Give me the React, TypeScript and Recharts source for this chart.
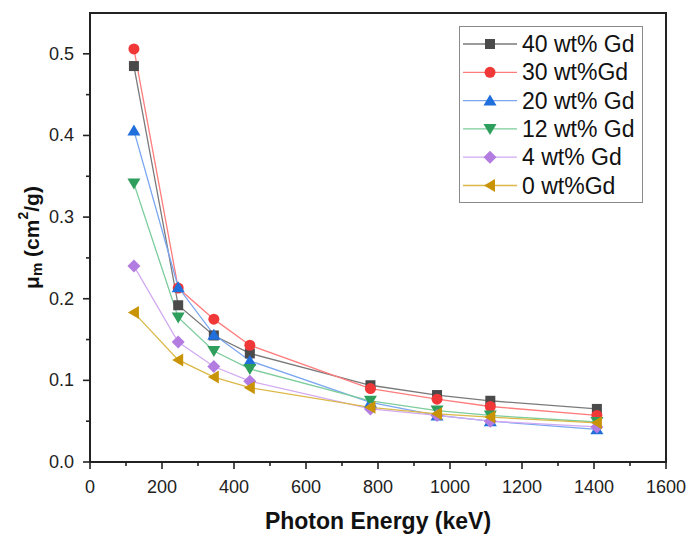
import React from "react";
import { LineChart, Line, XAxis, YAxis, Legend, ReferenceArea } from "recharts";

const energies = [122, 245, 344, 444, 779, 964, 1112, 1408];
const gd40 = [0.485, 0.192, 0.155, 0.133, 0.094, 0.082, 0.075, 0.065];
const gd30 = [0.506, 0.213, 0.175, 0.143, 0.09, 0.077, 0.068, 0.057];
const gd20 = [0.406, 0.214, 0.156, 0.124, 0.073, 0.057, 0.05, 0.04];
const gd12 = [0.341, 0.177, 0.136, 0.114, 0.075, 0.063, 0.057, 0.049];
const gd4 = [0.24, 0.147, 0.117, 0.099, 0.065, 0.057, 0.05, 0.043];
const gd0 = [0.183, 0.125, 0.104, 0.091, 0.067, 0.059, 0.055, 0.048];

const seriesNames = ["40 wt% Gd", "30 wt%Gd", "20 wt% Gd", "12 wt% Gd", "4 wt% Gd", "0 wt%Gd"];
const xTicks = [0, 100, 200, 300, 400, 500, 600, 700, 800, 900, 1000, 1100, 1200, 1300, 1400, 1500, 1600];
const yTicks = [0, 0.05, 0.1, 0.15, 0.2, 0.25, 0.3, 0.35, 0.4, 0.45, 0.5];

const seriesValues = [gd40, gd30, gd20, gd12, gd4, gd0];
const keys = ["gd40", "gd30", "gd20", "gd12", "gd4", "gd0"];
const shapes = ["square", "circle", "up", "down", "diamond", "left"];
const markerColors = ["#4a4a4a", "#f03838", "#1f6fdc", "#2e9e5c", "#b27ce0", "#c89406"];
const lineColors = ["#7a7a7a", "#ff7c7c", "#7aa6f0", "#7ccc9c", "#d2aaf2", "#dcb848"];

const data = energies.map((e, i) => {
  const row: any = { e };
  keys.forEach((k, j) => {
    row[k] = seriesValues[j][i];
  });
  return row;
});

const FONT = "'Liberation Sans', Arial, sans-serif";

function Marker({ shape, cx, cy, color }: any) {
  if (cx == null || cy == null) return null;
  switch (shape) {
    case "square":
      return <rect x={cx - 5} y={cy - 5} width={10} height={10} fill={color} />;
    case "circle":
      return <circle cx={cx} cy={cy} r={5.5} fill={color} />;
    case "up":
      return <polygon points={`${cx},${cy - 6} ${cx + 6.5},${cy + 5} ${cx - 6.5},${cy + 5}`} fill={color} />;
    case "down":
      return <polygon points={`${cx},${cy + 6} ${cx + 6.5},${cy - 5} ${cx - 6.5},${cy - 5}`} fill={color} />;
    case "diamond":
      return <polygon points={`${cx},${cy - 6.5} ${cx + 6.5},${cy} ${cx},${cy + 6.5} ${cx - 6.5},${cy}`} fill={color} />;
    case "left":
      return <polygon points={`${cx - 6},${cy} ${cx + 5},${cy - 6.5} ${cx + 5},${cy + 6.5}`} fill={color} />;
    default:
      return null;
  }
}

const XTick = (props: any) => {
  const { x, y, payload } = props;
  const v = payload.value;
  const major = v % 200 === 0;
  return (
    <g>
      <line x1={x} x2={x} y1={y} y2={y + (major ? 7 : 4)} stroke="#222" strokeWidth={1.6} />
      {major && (
        <text x={x} y={y + 31} textAnchor="middle" fontSize={18} fill="#222" fontFamily={FONT}>
          {v}
        </text>
      )}
    </g>
  );
};

const YTick = (props: any) => {
  const { x, y, payload } = props;
  const v = payload.value;
  const major = Math.round(v * 100) % 10 === 0;
  return (
    <g>
      <line x1={x} x2={x - (major ? 7 : 4)} y1={y} y2={y} stroke="#222" strokeWidth={1.6} />
      {major && (
        <text x={x - 16} y={y + 6} textAnchor="end" fontSize={18} fill="#222" fontFamily={FONT}>
          {v.toFixed(1)}
        </text>
      )}
    </g>
  );
};

const LegendBox = () => (
  <div
    style={{
      width: 184,
      height: 177,
      border: "1px solid #8a8a8a",
      background: "#fff",
      boxSizing: "border-box",
    }}
  >
    <svg width={184} height={177}>
      {seriesNames.map((name, i) => {
        const cy = 17 + 28.3 * i;
        return (
          <g key={name}>
            <line x1={3} x2={57} y1={cy} y2={cy} stroke={lineColors[i]} strokeWidth={1.3} />
            <Marker shape={shapes[i]} cx={30} cy={cy} color={markerColors[i]} />
            <text x={62} y={cy + 8} fontSize={23} fill="#111" fontFamily={FONT}>
              {name}
            </text>
          </g>
        );
      })}
    </svg>
  </div>
);

const YLabel = (props: any) => {
  const vb = props.viewBox || { x: 30, y: 13, width: 60, height: 449 };
  const cx = 31;
  const cy = vb.y + vb.height / 2;
  return (
    <text
      x={cx}
      y={cy}
      transform={`rotate(-90 ${cx} ${cy})`}
      textAnchor="middle"
      dominantBaseline="central"
      fontSize={21}
      fontWeight="bold"
      fill="#111"
      fontFamily={FONT}
    >
      <tspan>μ</tspan>
      <tspan fontSize={15} dy={5}>m</tspan>
      <tspan dy={-5}> (cm</tspan>
      <tspan fontSize={14} dy={-8}>2</tspan>
      <tspan dy={8}>/g)</tspan>
    </text>
  );
};

const XLabel = (props: any) => {
  const vb = props.viewBox || { x: 90, y: 462, width: 576, height: 50 };
  return (
    <text
      x={vb.x + vb.width / 2}
      y={vb.y + 67}
      textAnchor="middle"
      fontSize={23}
      fontWeight="bold"
      fill="#111"
      fontFamily={FONT}
    >
      Photon Energy (keV)
    </text>
  );
};

export default function App() {
  return (
    <div style={{ position: "absolute", left: 0, top: 0, width: 689, height: 536, background: "#fff" }}>
      <LineChart width={689} height={536} data={data} margin={{ top: 13, right: 23, bottom: 24, left: 30 }}>
        <ReferenceArea x1={0} x2={1600} y1={0} y2={0.55} stroke="#222" strokeWidth={2} fill="none" fillOpacity={0} />
        <XAxis
          dataKey="e"
          type="number"
          domain={[0, 1600]}
          ticks={xTicks}
          interval={0}
          height={50}
          tickSize={0}
          tickMargin={0}
          tickLine={false}
          axisLine={{ stroke: "#222", strokeWidth: 2 }}
          tick={<XTick />}
          label={<XLabel />}
        />
        <YAxis
          type="number"
          domain={[0, 0.55]}
          ticks={yTicks}
          interval={0}
          width={60}
          tickSize={0}
          tickMargin={0}
          tickLine={false}
          axisLine={{ stroke: "#222", strokeWidth: 2 }}
          tick={<YTick />}
          label={<YLabel />}
          allowDataOverflow
        />
        {keys.map((k, i) => (
          <Line
            key={k}
            dataKey={k}
            name={seriesNames[i]}
            stroke={lineColors[i]}
            strokeWidth={1.3}
            isAnimationActive={false}
            dot={(p: any) => (
              <Marker key={`${k}-${p.index}`} shape={shapes[i]} cx={p.cx} cy={p.cy} color={markerColors[i]} />
            )}
            activeDot={false}
          />
        ))}
        <Legend
          layout="vertical"
          align="center"
          verticalAlign="middle"
          content={<LegendBox />}
          wrapperStyle={{ position: "absolute", left: 459, top: 26, width: 184, height: 177 }}
        />
      </LineChart>
    </div>
  );
}
